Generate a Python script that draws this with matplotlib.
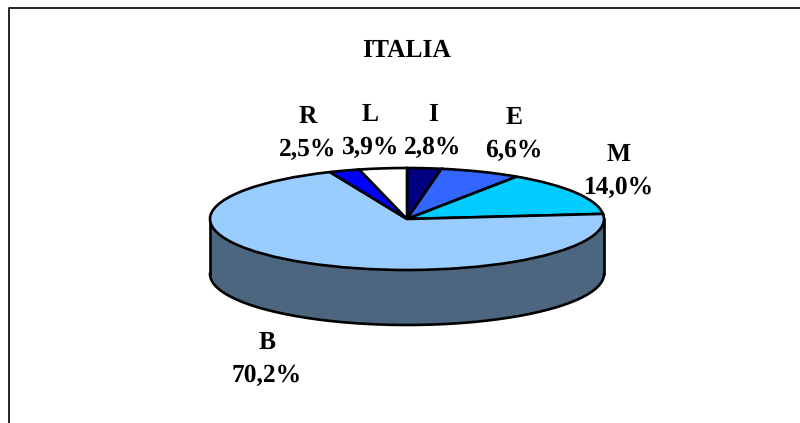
import matplotlib.pyplot as plt
from matplotlib.lines import Line2D
import numpy as np

title = 'ITALIA'
labels = ['I', 'E', 'M', 'B', 'R', 'L']
values = [2.8, 6.6, 14.0, 70.2, 2.5, 3.9]
colors = ['#000080', '#3366FF', '#00CCFF', '#99CCFF', '#0000FF', '#FFFFFF']
side_color = '#4D6680'

W, H = 800, 423
# pie geometry in pixels
cx, cy, rx, ry, depth = 407, 219, 197, 51, 55
# label centres in pixels
label_pos = [(433, 131), (514, 134), (619, 171), (267, 359), (308, 133), (370, 131)]


def fx(px):
    return px / W


def fy(py):
    return 1 - py / H


plt.rcParams['font.family'] = ['Liberation Serif', 'DejaVu Serif']
plt.rcParams['font.weight'] = 'bold'
plt.rcParams['text.hinting'] = 'none'

fig = plt.figure(figsize=(W / 100, H / 100), dpi=100)
ax = fig.add_axes([0, 0, 1, 1])

wedges, _ = ax.pie(values, colors=colors, startangle=90, counterclock=False, radius=1,
                   wedgeprops={'edgecolor': 'black', 'linewidth': 1.9, 'zorder': 3})

ax.set_aspect('auto')
ax.set_xlim(-cx / rx, (W - cx) / rx)
ax.set_ylim(-(H - cy) / ry, cy / ry)
ax.axis('off')

# wall of the pie below the top face
t = np.linspace(np.pi, 2 * np.pi, 200)
d = depth / ry
ax.fill_between(np.cos(t), np.sin(t), np.sin(t) - d, color=side_color, lw=0, zorder=1)
ax.plot(np.cos(t), np.sin(t) - d, color='black', lw=1.9, zorder=2)
ax.plot([-1, -1], [0, -d], color='black', lw=1.9, zorder=2)
ax.plot([1, 1], [0, -d], color='black', lw=1.9, zorder=2)

for lab, val, (px, py) in zip(labels, values, label_pos):
    txt = lab + '\n' + f'{val:.1f}%'.replace('.', ',')
    fig.text(fx(px), fy(py), txt, ha='center', va='center', fontsize=18.4,
             fontweight='bold', linespacing=1.5)

fig.text(fx(407), fy(51), title, ha='center', va='center', fontsize=18.4, fontweight='bold')

# chart frame, only top and left show in the crop
fig.add_artist(Line2D([fx(8.5), fx(8.5), fx(800)], [fy(423), fy(8.5), fy(8.5)],
                      color='black', lw=1.2))

fig.savefig('out.png', dpi=100)
